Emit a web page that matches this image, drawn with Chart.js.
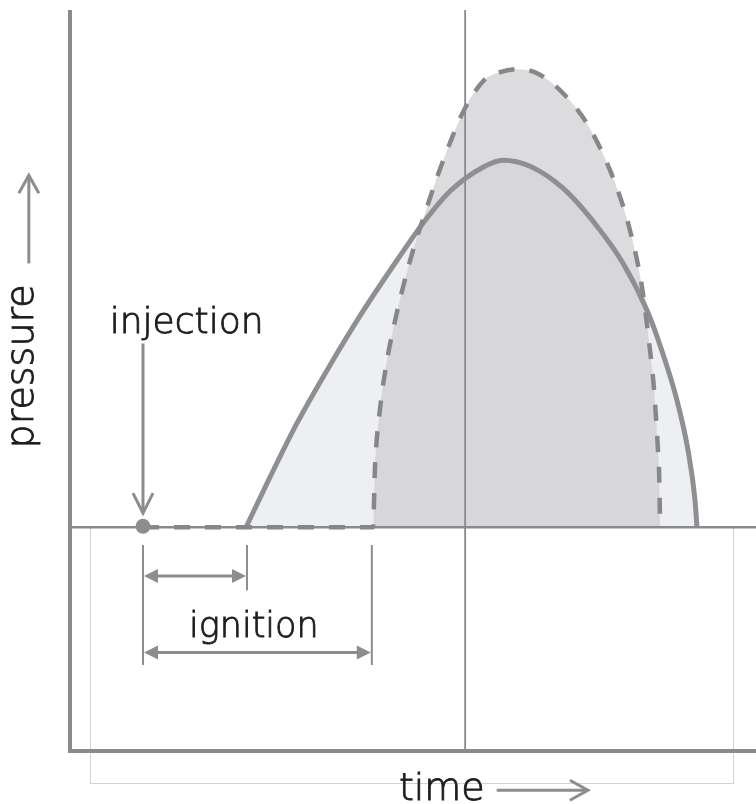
<!DOCTYPE html>
<html>
<head>
<meta charset="utf-8">
<script src="https://cdn.jsdelivr.net/npm/chart.js@4.4.1/dist/chart.umd.min.js"></script>
<style>
  html,body{margin:0;padding:0;background:#ffffff;}
  #wrap{width:756px;height:804px;}
</style>
</head>
<body>
<div id="wrap"><canvas id="c" width="756" height="804"></canvas></div>
<script>
// ---- data (time and pressure in arbitrary schematic units) ----
const solidTime      = [25.66, 29.15, 33.09, 37.90, 42.71, 47.67, 51.46, 55.39, 60.20, 63.12, 67.06, 71.87, 76.82, 80.61, 84.11, 86.01, 88.48, 90.09, 91.11, 91.40];
const solidPressure  = [0, 6.75, 14.04, 21.86, 29.15, 36.03, 41.03, 45.34, 48.58, 49.53, 48.72, 45.75, 40.62, 35.63, 29.28, 24.56, 17.14, 10.39, 3.64, 0];
const dashedTime     = [10.64, 44.17, 44.46, 45.12, 46.14, 47.08, 48.54, 50.44, 51.75, 53.35, 55.25, 57.43, 60.35, 62.68, 65.16, 68.08, 71.87, 75.51, 79.30, 81.63, 83.38, 84.55, 85.06, 85.42, 85.71, 85.93, 86.01];
const dashedPressure = [0, 0, 8.10, 15.38, 22.13, 26.59, 32.39, 38.73, 42.38, 46.83, 51.55, 56.28, 60.32, 61.40, 61.81, 61.27, 58.57, 54.25, 46.83, 40.08, 32.39, 23.89, 19.43, 14.84, 10.39, 5.40, 0];
const injectionTime  = 10.64;
const ignitionEnds   = [25.8, 44.0];   // short and long ignition delay end times
const dividerTime    = 57.6;
const timeRange      = [0, 100];
const pressureRange  = [-30.2, 69.8];
const labels = { pressure: 'pressure', time: 'time', injection: 'injection', ignition: 'ignition' };

const toPts = (xs, ys) => xs.map((x, i) => ({ x: x, y: ys[i] }));

const LINE = '#8c8d90';
const TEXT = '#1e1e1e';
const FONT = '"DejaVu Sans", sans-serif';

function arrowOpen(ctx, x1, y1, x2, y2, back, half) {
  const a = Math.atan2(y2 - y1, x2 - x1);
  ctx.beginPath();
  ctx.moveTo(x1, y1); ctx.lineTo(x2, y2);
  ctx.stroke();
  ctx.beginPath();
  ctx.moveTo(x2 - back * Math.cos(a) + half * Math.sin(a), y2 - back * Math.sin(a) - half * Math.cos(a));
  ctx.lineTo(x2, y2);
  ctx.lineTo(x2 - back * Math.cos(a) - half * Math.sin(a), y2 - back * Math.sin(a) + half * Math.cos(a));
  ctx.stroke();
}
function solidHead(ctx, x, y, dir, len, half) {
  ctx.beginPath();
  ctx.moveTo(x, y);
  ctx.lineTo(x - dir * len, y - half);
  ctx.lineTo(x - dir * len, y + half);
  ctx.closePath();
  ctx.fill();
}
function label(ctx, text, x, y, size) {
  ctx.font = '300 ' + size + 'px ' + FONT;
  ctx.fillText(text, x, y);
  ctx.strokeText(text, x, y);
}

const deco = {
  id: 'deco',
  beforeDatasetsDraw(chart) {
    const ctx = chart.ctx, X = v => chart.scales.x.getPixelForValue(v), Y = v => chart.scales.y.getPixelForValue(v);
    ctx.save();
    ctx.strokeStyle = '#d2d2d2';
    ctx.lineWidth = 1;
    ctx.strokeRect(Math.round(X(2.9)) + 0.5, Y(0), Math.round(X(96.6)) - Math.round(X(2.9)), Math.round(Y(-34.5)) - Y(0) + 0.5);
    ctx.restore();
  },
  afterDatasetsDraw(chart) {
    const ctx = chart.ctx, X = v => chart.scales.x.getPixelForValue(v), Y = v => chart.scales.y.getPixelForValue(v);
    const area = chart.chartArea;
    ctx.save();
    // axes
    ctx.strokeStyle = '#8b8b8e';
    ctx.lineWidth = 4;
    ctx.lineJoin = 'miter';
    ctx.beginPath();
    ctx.moveTo(area.left, area.top);
    ctx.lineTo(area.left, area.bottom);
    ctx.lineTo(area.right, area.bottom);
    ctx.stroke();

    // injection arrow + dot
    ctx.strokeStyle = LINE; ctx.fillStyle = LINE;
    ctx.lineWidth = 3;
    arrowOpen(ctx, X(injectionTime), Y(24.8), X(injectionTime), Y(1.9), 20, 10);
    ctx.beginPath();
    ctx.arc(X(injectionTime), Y(0) - 1, 7.5, 0, Math.PI * 2);
    ctx.fill();

    // ignition markers
    ctx.lineWidth = 2;
    ctx.beginPath();
    ctx.moveTo(X(injectionTime), Y(-2.4)); ctx.lineTo(X(injectionTime), Y(-18.6));
    ctx.moveTo(X(ignitionEnds[0]), Y(-2.4)); ctx.lineTo(X(ignitionEnds[0]), Y(-8.5));
    ctx.moveTo(X(ignitionEnds[1]), Y(-2.4)); ctx.lineTo(X(ignitionEnds[1]), Y(-18.6));
    ctx.stroke();
    ctx.lineWidth = 3;
    [[ignitionEnds[0], -6.6], [ignitionEnds[1], -16.9]].forEach(([t, p]) => {
      const x1 = X(injectionTime) + 1, x2 = X(t) - 1, y = Y(p);
      ctx.beginPath(); ctx.moveTo(x1 + 8, y); ctx.lineTo(x2 - 8, y); ctx.stroke();
      solidHead(ctx, x1, y, -1, 14, 7);
      solidHead(ctx, x2, y, 1, 14, 7);
    });

    // pressure and time arrows
    arrowOpen(ctx, X(-6.0), Y(35.6), X(-6.0), Y(47.5), 18, 10);
    arrowOpen(ctx, X(62.2), Y(-35.5), X(75.5), Y(-35.5), 18, 10);

    // texts
    ctx.fillStyle = TEXT;
    ctx.strokeStyle = TEXT;
    ctx.lineWidth = 0.9;
    ctx.textAlign = 'center';
    ctx.textBaseline = 'alphabetic';
    label(ctx, labels.injection, X(17.0), Y(26.2), 36);
    label(ctx, labels.ignition, X(26.8), Y(-14.8), 35);
    label(ctx, labels.time, X(54.2), Y(-36.8), 38);
    ctx.save();
    ctx.translate(X(-5.4), Y(21.7));
    ctx.rotate(-Math.PI / 2);
    label(ctx, labels.pressure, 0, 0, 38);
    ctx.restore();
    ctx.restore();
  }
};

new Chart(document.getElementById('c'), {
  type: 'line',
  data: {
    datasets: [
      {
        label: 'dashed', data: toPts(dashedTime, dashedPressure),
        borderColor: '#86878a', borderWidth: 4.5, borderDash: [16, 15],
        backgroundColor: 'rgba(204,205,208,0.69)', fill: 'origin',
        pointRadius: 0, cubicInterpolationMode: 'monotone', order: 1, clip: false
      },
      {
        label: 'solid', data: toPts(solidTime, solidPressure),
        borderColor: '#8e8f92', borderWidth: 5,
        backgroundColor: '#eeeff0', fill: 'origin',
        pointRadius: 0, cubicInterpolationMode: 'monotone', order: 2, clip: false
      },
      {
        label: 'divider', data: [{ x: dividerTime, y: pressureRange[0] }, { x: dividerTime, y: pressureRange[1] }],
        borderColor: '#8a8a8d', borderWidth: 1.8, pointRadius: 0, fill: false, order: 3, clip: false
      },
      {
        label: 'baseline', data: [{ x: timeRange[0], y: 0 }, { x: timeRange[1], y: 0 }],
        borderColor: '#8a8a8d', borderWidth: 2.5, pointRadius: 0, fill: false, order: 4, clip: false
      }
    ]
  },
  options: {
    responsive: false,
    animation: false,
    devicePixelRatio: 1,
    layout: { padding: { left: 70, right: 0, top: 10, bottom: 53 } },
    scales: {
      x: { type: 'linear', min: timeRange[0], max: timeRange[1], display: false },
      y: { type: 'linear', min: pressureRange[0], max: pressureRange[1], display: false }
    },
    plugins: {
      legend: { display: false },
      tooltip: { enabled: false },
      filler: { drawTime: 'beforeDatasetsDraw' }
    },
    elements: { line: { borderCapStyle: 'butt' } }
  },
  plugins: [deco]
});
</script>
</body>
</html>
